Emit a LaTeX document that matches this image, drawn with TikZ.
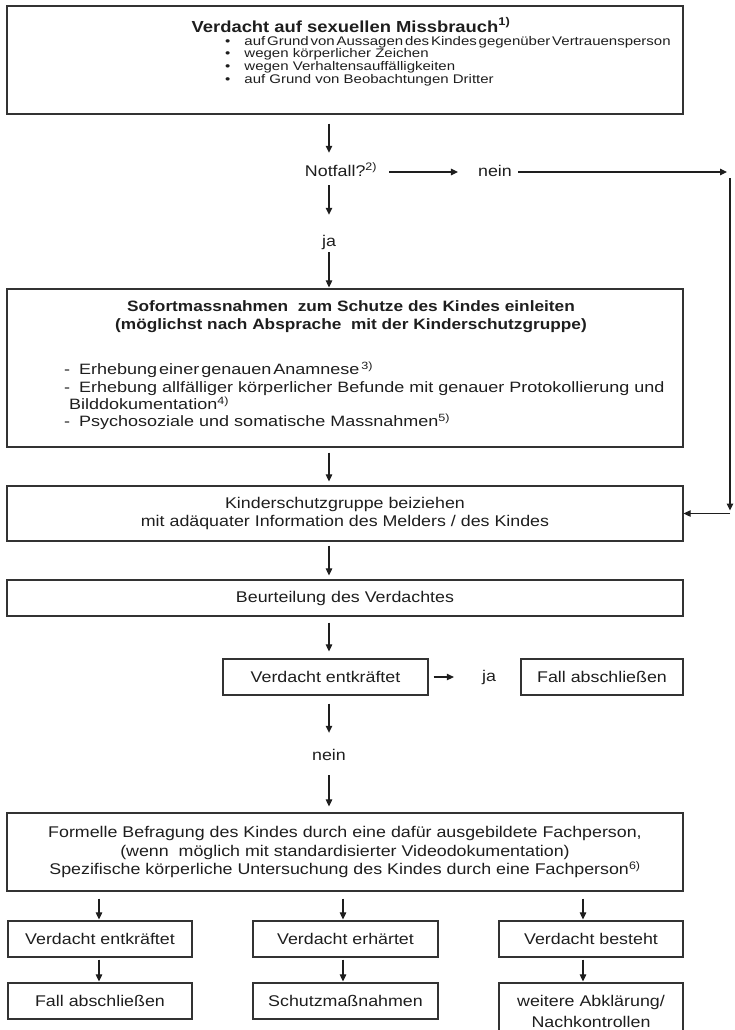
\documentclass[tikz,border=0pt]{standalone}
\usepackage{fontspec}
\setmainfont{Liberation Sans}[FakeStretch=1.15]
\newfontfamily\itemfont{Liberation Sans}[FakeStretch=1.2]
\usetikzlibrary{arrows.meta}
\definecolor{ink}{HTML}{1E1E1E}
\definecolor{edge}{HTML}{333333}
\begin{document}
\begin{tikzpicture}[x=1pt,y=-1pt,
  box/.style={draw=edge,line width=1.2pt,inner sep=0pt},
  lbl/.style={inner sep=0pt,text=ink,font=\fontsize{15.5}{19}\selectfont,text height=11pt,text depth=3pt},
  txt/.style={inner sep=0pt,text=ink,font=\fontsize{15.5}{18.5}\selectfont,align=center},
  arr/.style={draw=ink,line width=1.1pt,-{Triangle[length=7pt,width=6.5pt]}},
]
\useasboundingbox (0,0) rectangle (734,1030);
\coordinate (col) at (329,0);
\coordinate (rcol) at (730,0);
\coordinate (c1) at (99,0);
\coordinate (c2) at (343,0);
\coordinate (c3) at (583,0);

% top box
\node[box,minimum width=676pt,minimum height=108pt] (top) at (345,60) {};
\node[inner sep=0pt,text=ink,font=\bfseries\fontsize{16}{19}\selectfont] (title1) at (351,25) {Verdacht auf sexuellen Missbrauch\textsuperscript{1)}};
\node[inner sep=0pt,text=ink,anchor=west,align=left,font=\itemfont\fontsize{12.5}{12.8}\selectfont] (bullets) at (225,61)
 {\spaceskip=1.8pt\textbullet\hspace{14pt}auf Grund von Aussagen des Kindes gegenüber Vertrauensperson\\
  \textbullet\hspace{14pt}wegen körperlicher Zeichen\\
  \textbullet\hspace{14pt}wegen Verhaltensauffälligkeiten\\
  \textbullet\hspace{14pt}auf Grund von Beobachtungen Dritter};

% Notfall
\node[lbl] (notfall) at (341,172) {Notfall?\textsuperscript{2)}};
\node[lbl] (nein) at (495,172) {nein};
\node[lbl] (ja) at (329,242) {ja};

% box 2
\node[box,minimum width=676pt,minimum height=158pt] (sofort) at (345,368) {};
\node[txt,font=\bfseries\fontsize{15}{18}\selectfont] (sofortT) at (351,317)
 {Sofortmassnahmen\ \ zum Schutze des Kindes einleiten\\(möglichst nach Absprache\ \ mit der Kinderschutzgruppe)};
\node[inner sep=0pt,text=ink,anchor=west,align=left,font=\itemfont\fontsize{15}{17.3}\selectfont] (items) at (64,396)
 {\spaceskip=2pt -\hspace{9pt}Erhebung einer genauen Anamnese \textsuperscript{3)}\\
  -\hspace{9pt}Erhebung allfälliger körperlicher Befunde mit genauer Protokollierung und\\
  \hspace*{5pt}Bilddokumentation\textsuperscript{4)}\\
  -\hspace{9pt}Psychosoziale und somatische Massnahmen\textsuperscript{5)}};

% Kinderschutzgruppe
\node[box,txt,minimum width=676pt,minimum height=55pt] (kinder) at (345,513.5)
 {Kinderschutzgruppe beiziehen\\mit adäquater Information des Melders / des Kindes};
\node[box,txt,minimum width=676pt,minimum height=36pt] (beurt) at (345,598) {Beurteilung des Verdachtes};
\node[box,txt,minimum width=205pt,minimum height=36pt] (ve) at (325.5,677) {Verdacht entkräftet};
\node[lbl] (ja2) at (489,677) {ja};
\node[box,txt,minimum width=162pt,minimum height=36pt] (fall1) at (602,677) {Fall abschließen};
\node[lbl] (nein2) at (329,756) {nein};
\node[box,txt,minimum width=676pt,minimum height=78pt] (formelle) at (345,852)
 {Formelle Befragung des Kindes durch eine dafür ausgebildete Fachperson,\\
  (wenn\ \ möglich mit standardisierter Videodokumentation)\\
  Spezifische körperliche Untersuchung des Kindes durch eine Fachperson\textsuperscript{6)}};

% bottom rows
\node[box,txt,minimum width=184pt,minimum height=36pt] (r1a) at (100,939) {Verdacht entkräftet};
\node[box,txt,minimum width=185pt,minimum height=36pt] (r1b) at (345.5,939) {Verdacht erhärtet};
\node[box,txt,minimum width=184pt,minimum height=36pt] (r1c) at (591,939) {Verdacht besteht};
\node[box,txt,minimum width=184pt,minimum height=36pt] (r2a) at (100,1001) {Fall abschließen};
\node[box,txt,minimum width=185pt,minimum height=36pt] (r2b) at (345.5,1001) {Schutzmaßnahmen};
\node[box,txt,minimum width=184pt,minimum height=57pt,font=\fontsize{15.5}{21}\selectfont] (r2c) at (591,1011.5) {weitere Abklärung/\\Nachkontrollen};

% connectors
\draw[arr,shorten <=9pt,shorten >=12pt] (top.south -| col) -- (notfall.north -| col);
\draw[arr,shorten <=6pt,shorten >=20pt] (notfall.south -| col) -- (ja.north -| col);
\draw[arr,shorten <=3pt,shorten >=1pt] (ja.south -| col) -- (sofort.north -| col);
\draw[arr,shorten <=12pt,shorten >=20pt] (notfall.east) -- (nein.west);
\draw[arr,shorten <=6pt,shorten >=3pt] (nein.east) -- (nein.east -| rcol);
\draw[arr,shorten <=6pt,shorten >=3pt] (nein.center -| rcol) -- (kinder.east -| rcol);
\draw[arr] (kinder.east -| rcol) -- (kinder.east);
\draw[arr,shorten <=5pt,shorten >=4pt] (sofort.south -| col) -- (kinder.north -| col);
\draw[arr,shorten <=4pt,shorten >=4pt] (kinder.south -| col) -- (beurt.north -| col);
\draw[arr,shorten <=6pt,shorten >=7pt] (beurt.south -| col) -- (ve.north -| col);
\draw[arr,shorten <=5pt,shorten >=28pt] (ve.east) -- (ja2.west);
\draw[arr,shorten <=8pt,shorten >=16pt] (ve.south -| col) -- (nein2.north -| col);
\draw[arr,shorten <=12pt,shorten >=6pt] (nein2.south -| col) -- (formelle.north -| col);
\draw[arr,shorten <=7pt,shorten >=1pt] (formelle.south -| c1) -- (r1a.north -| c1);
\draw[arr,shorten <=7pt,shorten >=1pt] (formelle.south -| c2) -- (r1b.north -| c2);
\draw[arr,shorten <=7pt,shorten >=1pt] (formelle.south -| c3) -- (r1c.north -| c3);
\draw[arr,shorten <=2pt,shorten >=1pt] (r1a.south -| c1) -- (r2a.north -| c1);
\draw[arr,shorten <=2pt,shorten >=1pt] (r1b.south -| c2) -- (r2b.north -| c2);
\draw[arr,shorten <=2pt,shorten >=1pt] (r1c.south -| c3) -- (r2c.north -| c3);
\end{tikzpicture}
\end{document}
